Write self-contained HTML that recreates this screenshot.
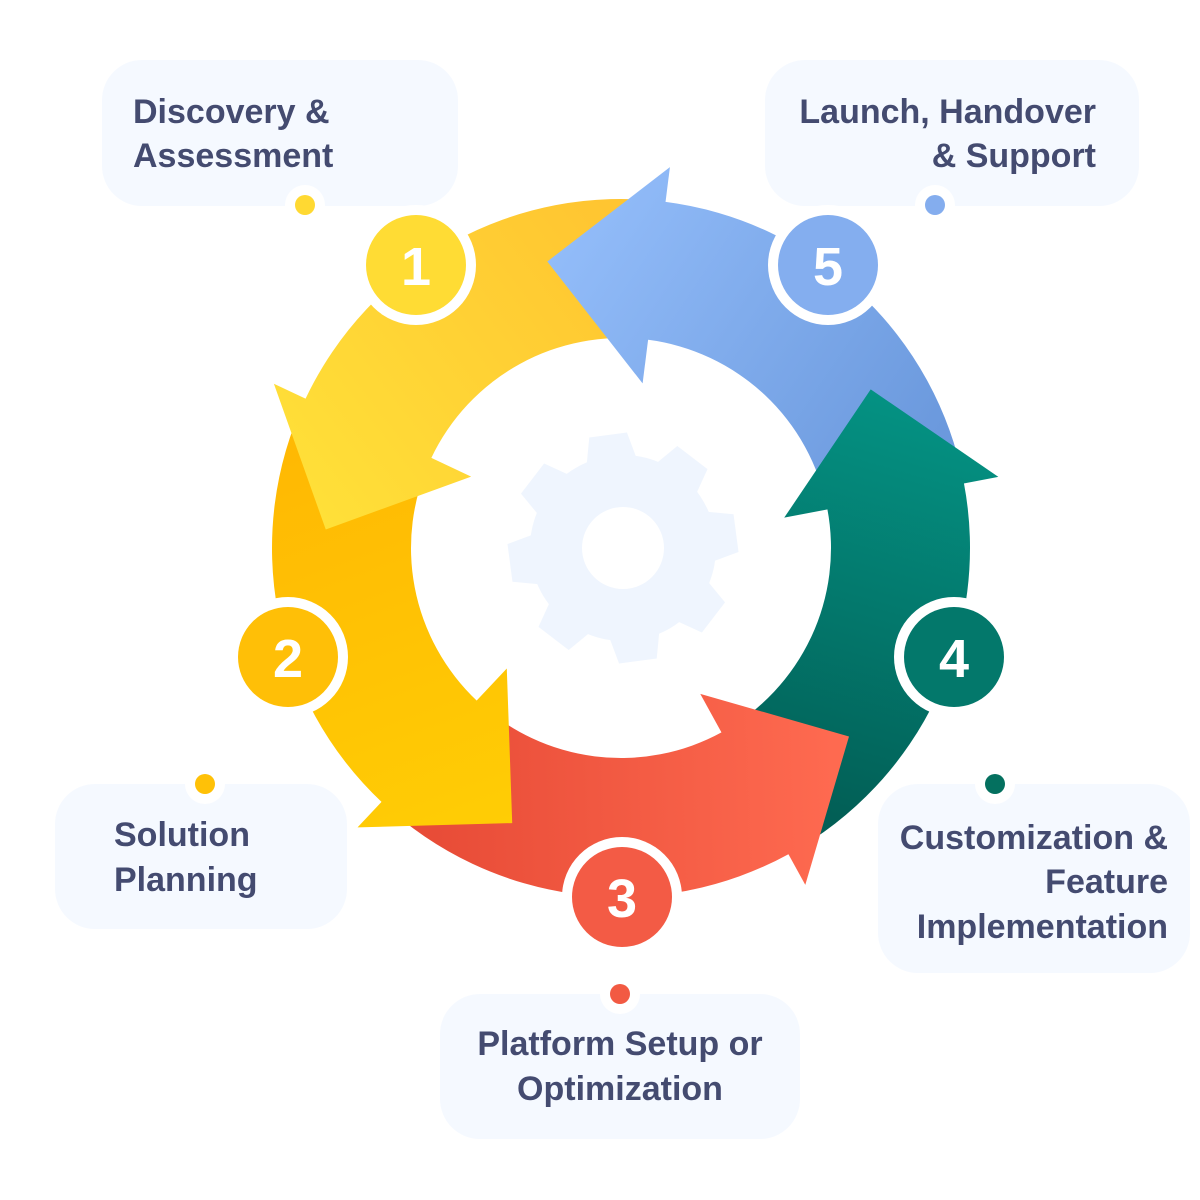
<!DOCTYPE html>
<html>
<head>
<meta charset="utf-8">
<style>
  html, body { margin: 0; padding: 0; background: #ffffff; }
  body { width: 1200px; height: 1200px; overflow: hidden; }
  svg { display: block; }
  .lbl { font-family: "Liberation Sans", Arial, sans-serif; font-weight: bold; font-size: 34px; fill: #444B70; }
  .num { font-family: "Liberation Sans", Arial, sans-serif; font-weight: bold; font-size: 54px; fill: #ffffff; }
</style>
</head>
<body>
<svg width="1200" height="1200" viewBox="0 0 1200 1200" xmlns="http://www.w3.org/2000/svg">
  <defs>
    <linearGradient id="gY1" gradientUnits="userSpaceOnUse" x1="266" y1="-86" x2="-109" y2="-275">
      <stop offset="0" stop-color="#FFC531"/>
      <stop offset="1" stop-color="#FFE038"/>
    </linearGradient>
    <linearGradient id="gY2" gradientUnits="userSpaceOnUse" x1="266" y1="-86" x2="-109" y2="-275">
      <stop offset="0" stop-color="#FFB903"/>
      <stop offset="1" stop-color="#FFCD05"/>
    </linearGradient>
    <linearGradient id="gR" gradientUnits="userSpaceOnUse" x1="266" y1="-86" x2="-109" y2="-275">
      <stop offset="0" stop-color="#E84C37"/>
      <stop offset="1" stop-color="#FF6B51"/>
    </linearGradient>
    <linearGradient id="gT" gradientUnits="userSpaceOnUse" x1="266" y1="-86" x2="-109" y2="-275">
      <stop offset="0" stop-color="#025F56"/>
      <stop offset="1" stop-color="#049283"/>
    </linearGradient>
    <linearGradient id="gB" gradientUnits="userSpaceOnUse" x1="266" y1="-86" x2="-109" y2="-275">
      <stop offset="0" stop-color="#6B99DD"/>
      <stop offset="1" stop-color="#92BCF9"/>
    </linearGradient>
  </defs>

  <!-- Text boxes -->
  <rect x="102" y="60" width="356" height="146" rx="40" ry="40" fill="#F5F9FF"/>
  <rect x="765" y="60" width="374" height="146" rx="40" ry="40" fill="#F5F9FF"/>
  <rect x="55" y="784" width="292" height="145" rx="40" ry="40" fill="#F5F9FF"/>
  <rect x="440" y="994" width="360" height="145" rx="40" ry="40" fill="#F5F9FF"/>
  <rect x="878" y="784" width="312" height="189" rx="40" ry="40" fill="#F5F9FF"/>

  <!-- Labels -->
  <text class="lbl" x="133" y="123">Discovery &amp;</text>
  <text class="lbl" x="133" y="167">Assessment</text>

  <text class="lbl" x="1096" y="123" text-anchor="end">Launch, Handover</text>
  <text class="lbl" x="1096" y="167" text-anchor="end">&amp; Support</text>

  <text class="lbl" x="114" y="846">Solution</text>
  <text class="lbl" x="114" y="891">Planning</text>

  <text class="lbl" x="620" y="1055" text-anchor="middle">Platform Setup or</text>
  <text class="lbl" x="620" y="1100" text-anchor="middle">Optimization</text>

  <text class="lbl" x="1168" y="849" text-anchor="end">Customization &amp;</text>
  <text class="lbl" x="1168" y="893" text-anchor="end">Feature</text>
  <text class="lbl" x="1168" y="938" text-anchor="end">Implementation</text>

  <!-- Connector dots -->
  <circle cx="305" cy="205" r="20" fill="#ffffff"/>
  <circle cx="305" cy="205" r="10" fill="#FFD932"/>
  <circle cx="935" cy="205" r="20" fill="#ffffff"/>
  <circle cx="935" cy="205" r="10" fill="#84ADEE"/>
  <circle cx="205" cy="784" r="20" fill="#ffffff"/>
  <circle cx="205" cy="784" r="10" fill="#FFC107"/>
  <circle cx="620" cy="994" r="20" fill="#ffffff"/>
  <circle cx="620" cy="994" r="10" fill="#F25A43"/>
  <circle cx="995" cy="784" r="20" fill="#ffffff"/>
  <circle cx="995" cy="784" r="10" fill="#04705F"/>

  <!-- Gear -->
  <g transform="translate(623 548)" fill="#EFF5FE">
    <circle r="93"/>
    <g transform="rotate(-7.5)"><polygon points="-19,-114 19,-114 25,-88 -25,-88"/></g>
    <g transform="rotate(37.5)"><polygon points="-19,-114 19,-114 25,-88 -25,-88"/></g>
    <g transform="rotate(82.5)"><polygon points="-19,-114 19,-114 25,-88 -25,-88"/></g>
    <g transform="rotate(127.5)"><polygon points="-19,-114 19,-114 25,-88 -25,-88"/></g>
    <g transform="rotate(172.5)"><polygon points="-19,-114 19,-114 25,-88 -25,-88"/></g>
    <g transform="rotate(217.5)"><polygon points="-19,-114 19,-114 25,-88 -25,-88"/></g>
    <g transform="rotate(262.5)"><polygon points="-19,-114 19,-114 25,-88 -25,-88"/></g>
    <g transform="rotate(307.5)"><polygon points="-19,-114 19,-114 25,-88 -25,-88"/></g>
    <circle r="41" fill="#ffffff"/>
  </g>

  <!-- Arrow bodies -->
  <g transform="translate(621 548) rotate(295.2)">
    <path d="M 0 -349 A 349 349 0 0 1 331.92 -107.85 L 199.72 -64.89 A 210 210 0 0 0 0 -210 Z" fill="url(#gY1)"/>
  </g>
  <g transform="translate(621 548) rotate(223.2)">
    <path d="M 0 -349 A 349 349 0 0 1 331.92 -107.85 L 199.72 -64.89 A 210 210 0 0 0 0 -210 Z" fill="url(#gY2)"/>
  </g>
  <g transform="translate(621 548) rotate(151.2)">
    <path d="M 0 -349 A 349 349 0 0 1 331.92 -107.85 L 199.72 -64.89 A 210 210 0 0 0 0 -210 Z" fill="url(#gR)"/>
  </g>
  <g transform="translate(621 548) rotate(79.2)">
    <path d="M 0 -349 A 349 349 0 0 1 331.92 -107.85 L 199.72 -64.89 A 210 210 0 0 0 0 -210 Z" fill="url(#gT)"/>
  </g>
  <g transform="translate(621 548) rotate(7.2)">
    <path d="M 0 -349 A 349 349 0 0 1 331.92 -107.85 L 199.72 -64.89 A 210 210 0 0 0 0 -210 Z" fill="url(#gB)"/>
  </g>

  <!-- Arrow heads -->
  <g transform="translate(621 548) rotate(295.2)">
    <polygon points="0.8,-384 0.8,-166 -109,-275" fill="url(#gY1)"/>
  </g>
  <g transform="translate(621 548) rotate(223.2)">
    <polygon points="0.8,-384 0.8,-166 -109,-275" fill="url(#gY2)"/>
  </g>
  <g transform="translate(621 548) rotate(151.2)">
    <polygon points="0.8,-384 0.8,-166 -109,-275" fill="url(#gR)"/>
  </g>
  <g transform="translate(621 548) rotate(79.2)">
    <polygon points="0.8,-384 0.8,-166 -109,-275" fill="url(#gT)"/>
  </g>
  <g transform="translate(621 548) rotate(7.2)">
    <polygon points="0.8,-384 0.8,-166 -109,-275" fill="url(#gB)"/>
  </g>

  <!-- Number circles -->
  <circle cx="416" cy="265" r="60" fill="#ffffff"/>
  <circle cx="416" cy="265" r="50" fill="#FFDC34"/>
  <text class="num" x="416" y="285" text-anchor="middle">1</text>

  <circle cx="288" cy="657" r="60" fill="#ffffff"/>
  <circle cx="288" cy="657" r="50" fill="#FFBF07"/>
  <text class="num" x="288" y="677" text-anchor="middle">2</text>

  <circle cx="622" cy="897" r="60" fill="#ffffff"/>
  <circle cx="622" cy="897" r="50" fill="#F35B45"/>
  <text class="num" x="622" y="917" text-anchor="middle">3</text>

  <circle cx="954" cy="657" r="60" fill="#ffffff"/>
  <circle cx="954" cy="657" r="50" fill="#03786B"/>
  <text class="num" x="954" y="677" text-anchor="middle">4</text>

  <circle cx="828" cy="265" r="60" fill="#ffffff"/>
  <circle cx="828" cy="265" r="50" fill="#84AEEF"/>
  <text class="num" x="828" y="285" text-anchor="middle">5</text>
</svg>
</body>
</html>
